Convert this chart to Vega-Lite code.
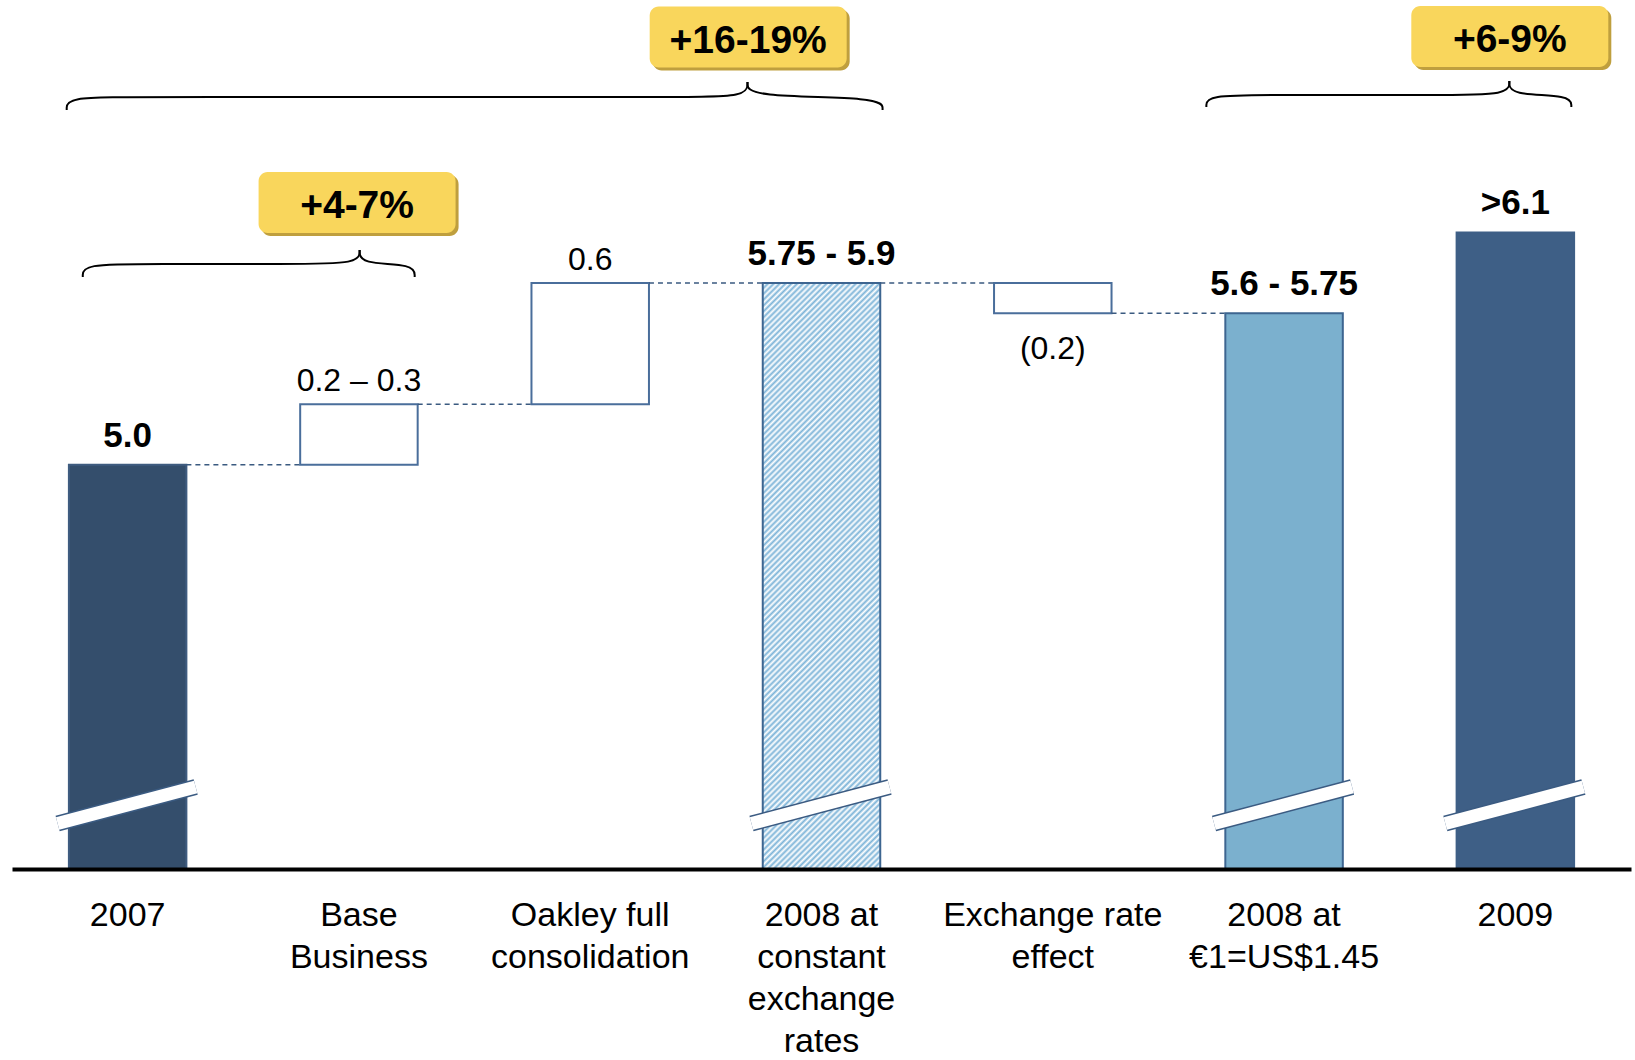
{
  "$schema": "https://vega.github.io/schema/vega-lite/v6.json",
  "width": 1619,
  "height": 869,
  "autosize": {"type": "none"},
  "padding": {"left": 12, "top": 0, "right": 4, "bottom": 191},
  "background": "#ffffff",
  "config": {"view": {"stroke": null}},
  "datasets": {
    "steps": [
      {"key": "y2007", "cat": "2007", "kind": "total", "lo": 0, "hi": 5.0, "label": "5.0"},
      {"key": "base", "cat": "Base\nBusiness", "kind": "up", "lo": 5.0, "hi": 5.3, "label": "0.2 – 0.3"},
      {"key": "oakley", "cat": "Oakley full\nconsolidation", "kind": "up", "lo": 5.3, "hi": 5.9, "label": "0.6"},
      {"key": "y2008c", "cat": "2008 at\nconstant\nexchange\nrates", "kind": "total", "lo": 0, "hi": 5.9, "label": "5.75 - 5.9"},
      {"key": "fx", "cat": "Exchange rate\neffect", "kind": "down", "lo": 5.75, "hi": 5.9, "label": "(0.2)"},
      {"key": "y2008usd", "cat": "2008 at\n€1=US$1.45", "kind": "total", "lo": 0, "hi": 5.75, "label": "5.6 - 5.75"},
      {"key": "y2009", "cat": "2009", "kind": "total", "lo": 0, "hi": 6.15, "label": ">6.1"}
    ],
    "links": [
      {"from": "2007", "to": "Base\nBusiness", "level": 5.0},
      {"from": "Base\nBusiness", "to": "Oakley full\nconsolidation", "level": 5.3},
      {"from": "Oakley full\nconsolidation", "to": "2008 at\nconstant\nexchange\nrates", "level": 5.9},
      {"from": "2008 at\nconstant\nexchange\nrates", "to": "Exchange rate\neffect", "level": 5.9},
      {"from": "Exchange rate\neffect", "to": "2008 at\n€1=US$1.45", "level": 5.75}
    ],
    "braces": [
      {"brace": "a1", "k": 0, "u": -0.2635, "v": 6.756},
      {"brace": "a1", "k": 1, "u": -0.2635, "v": 6.82},
      {"brace": "a1", "k": 2, "u": 0.0365, "v": 6.82},
      {"brace": "a1", "k": 3, "u": 2.38, "v": 6.82},
      {"brace": "a1", "k": 4, "u": 2.68, "v": 6.82},
      {"brace": "a1", "k": 5, "u": 2.68, "v": 6.894},
      {"brace": "a2", "k": 0, "u": 2.68, "v": 6.894},
      {"brace": "a2", "k": 1, "u": 2.68, "v": 6.82},
      {"brace": "a2", "k": 2, "u": 3.264, "v": 6.82},
      {"brace": "a2", "k": 3, "u": 3.264, "v": 6.756},
      {"brace": "b1", "k": 0, "u": -0.194, "v": 5.929},
      {"brace": "b1", "k": 1, "u": -0.194, "v": 5.994},
      {"brace": "b1", "k": 2, "u": 0.106, "v": 5.994},
      {"brace": "b1", "k": 3, "u": 0.703, "v": 5.994},
      {"brace": "b1", "k": 4, "u": 1.003, "v": 5.994},
      {"brace": "b1", "k": 5, "u": 1.003, "v": 6.063},
      {"brace": "b2", "k": 0, "u": 1.003, "v": 6.063},
      {"brace": "b2", "k": 1, "u": 1.003, "v": 5.994},
      {"brace": "b2", "k": 2, "u": 1.241, "v": 5.994},
      {"brace": "b2", "k": 3, "u": 1.241, "v": 5.929},
      {"brace": "c1", "k": 0, "u": 4.664, "v": 6.771},
      {"brace": "c1", "k": 1, "u": 4.664, "v": 6.83},
      {"brace": "c1", "k": 2, "u": 4.964, "v": 6.83},
      {"brace": "c1", "k": 3, "u": 5.674, "v": 6.83},
      {"brace": "c1", "k": 4, "u": 5.974, "v": 6.83},
      {"brace": "c1", "k": 5, "u": 5.974, "v": 6.899},
      {"brace": "c2", "k": 0, "u": 5.974, "v": 6.899},
      {"brace": "c2", "k": 1, "u": 5.974, "v": 6.83},
      {"brace": "c2", "k": 2, "u": 6.242, "v": 6.83},
      {"brace": "c2", "k": 3, "u": 6.242, "v": 6.771}
    ],
    "badges": [
      {"text": "+16-19%", "u": 2.683, "v": 7.117},
      {"text": "+4-7%", "u": 0.992, "v": 6.298},
      {"text": "+6-9%", "u": 5.976, "v": 7.12}
    ]
  },
  "layer": [
    {
      "data": {"name": "steps"},
      "transform": [{"filter": "datum.key != 'y2008c'"}],
      "mark": {"type": "bar", "strokeWidth": 2},
      "encoding": {
        "x": {
          "field": "cat", "type": "nominal", "sort": null,
          "scale": {"domain": ["2007", "Base\nBusiness", "Oakley full\nconsolidation", "2008 at\nconstant\nexchange\nrates", "Exchange rate\neffect", "2008 at\n€1=US$1.45", "2009"], "paddingInner": 0.492, "paddingOuter": 0.246},
          "axis": {
            "title": null, "zindex": 1, "orient": "bottom",
            "domain": true, "domainColor": "#000000", "domainWidth": 4,
            "ticks": false, "tickSize": 0, "grid": false,
            "labelPadding": 29, "labelAngle": 0, "labelBaseline": "top",
            "labelFont": "Liberation Sans, Arial, sans-serif",
            "labelFontSize": 34, "labelColor": "#000000", "labelLineHeight": 42,
            "labelLimit": 0, "labelOverlap": false,
            "labelExpr": "split(datum.label, '\\n')"
          }
        },
        "y": {"field": "hi", "type": "quantitative", "scale": {"domain": [3, 7.3], "clamp": true, "zero": false, "nice": false}, "axis": null},
        "y2": {"field": "lo"},
        "fill": {"field": "key", "type": "nominal", "legend": null,
          "scale": {"domain": ["y2007", "base", "oakley", "fx", "y2008usd", "y2009"], "range": ["#344e6c", "#ffffff", "#ffffff", "#ffffff", "#7bb0ce", "#3e5f86"]}},
        "stroke": {"field": "key", "type": "nominal", "legend": null,
          "scale": {"domain": ["y2007", "base", "oakley", "fx", "y2008usd", "y2009"], "range": ["#3f5c80", "#4a6e9b", "#4a6e9b", "#4a6e9b", "#3d6590", "#3e5f86"]}}
      }
    },
    {
      "data": {"name": "steps"},
      "transform": [{"filter": {"field": "key", "equal": "y2008c"}}],
      "mark": {
        "type": "bar", "stroke": "#3d6590", "strokeWidth": 2,
        "fill": {
          "gradient": "linear", "x1": 0, "y1": 0, "x2": 0.24, "y2": 1.2,
          "stops": [
            {"offset":0,"color":"#7db4d8"},{"offset":0.004,"color":"#fff"},{"offset":0.008,"color":"#7db4d8"},{"offset":0.012,"color":"#fff"},{"offset":0.016,"color":"#7db4d8"},{"offset":0.02,"color":"#fff"},{"offset":0.024,"color":"#7db4d8"},{"offset":0.028,"color":"#fff"},{"offset":0.032,"color":"#7db4d8"},{"offset":0.036,"color":"#fff"},
            {"offset":0.04,"color":"#7db4d8"},{"offset":0.044,"color":"#fff"},{"offset":0.048,"color":"#7db4d8"},{"offset":0.052,"color":"#fff"},{"offset":0.056,"color":"#7db4d8"},{"offset":0.06,"color":"#fff"},{"offset":0.064,"color":"#7db4d8"},{"offset":0.068,"color":"#fff"},{"offset":0.072,"color":"#7db4d8"},{"offset":0.076,"color":"#fff"},
            {"offset":0.08,"color":"#7db4d8"},{"offset":0.084,"color":"#fff"},{"offset":0.088,"color":"#7db4d8"},{"offset":0.092,"color":"#fff"},{"offset":0.096,"color":"#7db4d8"},{"offset":0.1,"color":"#fff"},{"offset":0.104,"color":"#7db4d8"},{"offset":0.108,"color":"#fff"},{"offset":0.112,"color":"#7db4d8"},{"offset":0.116,"color":"#fff"},
            {"offset":0.12,"color":"#7db4d8"},{"offset":0.124,"color":"#fff"},{"offset":0.128,"color":"#7db4d8"},{"offset":0.132,"color":"#fff"},{"offset":0.136,"color":"#7db4d8"},{"offset":0.14,"color":"#fff"},{"offset":0.144,"color":"#7db4d8"},{"offset":0.148,"color":"#fff"},{"offset":0.152,"color":"#7db4d8"},{"offset":0.156,"color":"#fff"},
            {"offset":0.16,"color":"#7db4d8"},{"offset":0.164,"color":"#fff"},{"offset":0.168,"color":"#7db4d8"},{"offset":0.172,"color":"#fff"},{"offset":0.176,"color":"#7db4d8"},{"offset":0.18,"color":"#fff"},{"offset":0.184,"color":"#7db4d8"},{"offset":0.188,"color":"#fff"},{"offset":0.192,"color":"#7db4d8"},{"offset":0.196,"color":"#fff"},
            {"offset":0.2,"color":"#7db4d8"},{"offset":0.204,"color":"#fff"},{"offset":0.208,"color":"#7db4d8"},{"offset":0.212,"color":"#fff"},{"offset":0.216,"color":"#7db4d8"},{"offset":0.22,"color":"#fff"},{"offset":0.224,"color":"#7db4d8"},{"offset":0.228,"color":"#fff"},{"offset":0.232,"color":"#7db4d8"},{"offset":0.236,"color":"#fff"},
            {"offset":0.24,"color":"#7db4d8"},{"offset":0.244,"color":"#fff"},{"offset":0.248,"color":"#7db4d8"},{"offset":0.252,"color":"#fff"},{"offset":0.256,"color":"#7db4d8"},{"offset":0.26,"color":"#fff"},{"offset":0.264,"color":"#7db4d8"},{"offset":0.268,"color":"#fff"},{"offset":0.272,"color":"#7db4d8"},{"offset":0.276,"color":"#fff"},
            {"offset":0.28,"color":"#7db4d8"},{"offset":0.284,"color":"#fff"},{"offset":0.288,"color":"#7db4d8"},{"offset":0.292,"color":"#fff"},{"offset":0.296,"color":"#7db4d8"},{"offset":0.3,"color":"#fff"},{"offset":0.304,"color":"#7db4d8"},{"offset":0.308,"color":"#fff"},{"offset":0.312,"color":"#7db4d8"},{"offset":0.316,"color":"#fff"},
            {"offset":0.32,"color":"#7db4d8"},{"offset":0.324,"color":"#fff"},{"offset":0.328,"color":"#7db4d8"},{"offset":0.332,"color":"#fff"},{"offset":0.336,"color":"#7db4d8"},{"offset":0.34,"color":"#fff"},{"offset":0.344,"color":"#7db4d8"},{"offset":0.348,"color":"#fff"},{"offset":0.352,"color":"#7db4d8"},{"offset":0.356,"color":"#fff"},
            {"offset":0.36,"color":"#7db4d8"},{"offset":0.364,"color":"#fff"},{"offset":0.368,"color":"#7db4d8"},{"offset":0.372,"color":"#fff"},{"offset":0.376,"color":"#7db4d8"},{"offset":0.38,"color":"#fff"},{"offset":0.384,"color":"#7db4d8"},{"offset":0.388,"color":"#fff"},{"offset":0.392,"color":"#7db4d8"},{"offset":0.396,"color":"#fff"},
            {"offset":0.4,"color":"#7db4d8"},{"offset":0.404,"color":"#fff"},{"offset":0.408,"color":"#7db4d8"},{"offset":0.412,"color":"#fff"},{"offset":0.416,"color":"#7db4d8"},{"offset":0.42,"color":"#fff"},{"offset":0.424,"color":"#7db4d8"},{"offset":0.428,"color":"#fff"},{"offset":0.432,"color":"#7db4d8"},{"offset":0.436,"color":"#fff"},
            {"offset":0.44,"color":"#7db4d8"},{"offset":0.444,"color":"#fff"},{"offset":0.448,"color":"#7db4d8"},{"offset":0.452,"color":"#fff"},{"offset":0.456,"color":"#7db4d8"},{"offset":0.46,"color":"#fff"},{"offset":0.464,"color":"#7db4d8"},{"offset":0.468,"color":"#fff"},{"offset":0.472,"color":"#7db4d8"},{"offset":0.476,"color":"#fff"},
            {"offset":0.48,"color":"#7db4d8"},{"offset":0.484,"color":"#fff"},{"offset":0.488,"color":"#7db4d8"},{"offset":0.492,"color":"#fff"},{"offset":0.496,"color":"#7db4d8"},{"offset":0.5,"color":"#fff"},{"offset":0.504,"color":"#7db4d8"},{"offset":0.508,"color":"#fff"},{"offset":0.512,"color":"#7db4d8"},{"offset":0.516,"color":"#fff"},
            {"offset":0.52,"color":"#7db4d8"},{"offset":0.524,"color":"#fff"},{"offset":0.528,"color":"#7db4d8"},{"offset":0.532,"color":"#fff"},{"offset":0.536,"color":"#7db4d8"},{"offset":0.54,"color":"#fff"},{"offset":0.544,"color":"#7db4d8"},{"offset":0.548,"color":"#fff"},{"offset":0.552,"color":"#7db4d8"},{"offset":0.556,"color":"#fff"},
            {"offset":0.56,"color":"#7db4d8"},{"offset":0.564,"color":"#fff"},{"offset":0.568,"color":"#7db4d8"},{"offset":0.572,"color":"#fff"},{"offset":0.576,"color":"#7db4d8"},{"offset":0.58,"color":"#fff"},{"offset":0.584,"color":"#7db4d8"},{"offset":0.588,"color":"#fff"},{"offset":0.592,"color":"#7db4d8"},{"offset":0.596,"color":"#fff"},
            {"offset":0.6,"color":"#7db4d8"},{"offset":0.604,"color":"#fff"},{"offset":0.608,"color":"#7db4d8"},{"offset":0.612,"color":"#fff"},{"offset":0.616,"color":"#7db4d8"},{"offset":0.62,"color":"#fff"},{"offset":0.624,"color":"#7db4d8"},{"offset":0.628,"color":"#fff"},{"offset":0.632,"color":"#7db4d8"},{"offset":0.636,"color":"#fff"},
            {"offset":0.64,"color":"#7db4d8"},{"offset":0.644,"color":"#fff"},{"offset":0.648,"color":"#7db4d8"},{"offset":0.652,"color":"#fff"},{"offset":0.656,"color":"#7db4d8"},{"offset":0.66,"color":"#fff"},{"offset":0.664,"color":"#7db4d8"},{"offset":0.668,"color":"#fff"},{"offset":0.672,"color":"#7db4d8"},{"offset":0.676,"color":"#fff"},
            {"offset":0.68,"color":"#7db4d8"},{"offset":0.684,"color":"#fff"},{"offset":0.688,"color":"#7db4d8"},{"offset":0.692,"color":"#fff"},{"offset":0.696,"color":"#7db4d8"},{"offset":0.7,"color":"#fff"},{"offset":0.704,"color":"#7db4d8"},{"offset":0.708,"color":"#fff"},{"offset":0.712,"color":"#7db4d8"},{"offset":0.716,"color":"#fff"},
            {"offset":0.72,"color":"#7db4d8"},{"offset":0.724,"color":"#fff"},{"offset":0.728,"color":"#7db4d8"},{"offset":0.732,"color":"#fff"},{"offset":0.736,"color":"#7db4d8"},{"offset":0.74,"color":"#fff"},{"offset":0.744,"color":"#7db4d8"},{"offset":0.748,"color":"#fff"},{"offset":0.752,"color":"#7db4d8"},{"offset":0.756,"color":"#fff"},
            {"offset":0.76,"color":"#7db4d8"},{"offset":0.764,"color":"#fff"},{"offset":0.768,"color":"#7db4d8"},{"offset":0.772,"color":"#fff"},{"offset":0.776,"color":"#7db4d8"},{"offset":0.78,"color":"#fff"},{"offset":0.784,"color":"#7db4d8"},{"offset":0.788,"color":"#fff"},{"offset":0.792,"color":"#7db4d8"},{"offset":0.796,"color":"#fff"},
            {"offset":0.8,"color":"#7db4d8"},{"offset":0.804,"color":"#fff"},{"offset":0.808,"color":"#7db4d8"},{"offset":0.812,"color":"#fff"},{"offset":0.816,"color":"#7db4d8"},{"offset":0.82,"color":"#fff"},{"offset":0.824,"color":"#7db4d8"},{"offset":0.828,"color":"#fff"},{"offset":0.832,"color":"#7db4d8"},{"offset":0.836,"color":"#fff"},
            {"offset":0.84,"color":"#7db4d8"},{"offset":0.844,"color":"#fff"},{"offset":0.848,"color":"#7db4d8"},{"offset":0.852,"color":"#fff"},{"offset":0.856,"color":"#7db4d8"},{"offset":0.86,"color":"#fff"},{"offset":0.864,"color":"#7db4d8"},{"offset":0.868,"color":"#fff"},{"offset":0.872,"color":"#7db4d8"},{"offset":0.876,"color":"#fff"},
            {"offset":0.88,"color":"#7db4d8"},{"offset":0.884,"color":"#fff"},{"offset":0.888,"color":"#7db4d8"},{"offset":0.892,"color":"#fff"},{"offset":0.896,"color":"#7db4d8"},{"offset":0.9,"color":"#fff"},{"offset":0.904,"color":"#7db4d8"},{"offset":0.908,"color":"#fff"},{"offset":0.912,"color":"#7db4d8"},{"offset":0.916,"color":"#fff"},
            {"offset":0.92,"color":"#7db4d8"},{"offset":0.924,"color":"#fff"},{"offset":0.928,"color":"#7db4d8"},{"offset":0.932,"color":"#fff"},{"offset":0.936,"color":"#7db4d8"},{"offset":0.94,"color":"#fff"},{"offset":0.944,"color":"#7db4d8"},{"offset":0.948,"color":"#fff"},{"offset":0.952,"color":"#7db4d8"},{"offset":0.956,"color":"#fff"},
            {"offset":0.96,"color":"#7db4d8"}
          ]
        }
      },
      "encoding": {
        "x": {"field": "cat", "type": "nominal", "sort": null, "axis": null,
          "scale": {"domain": ["2007", "Base\nBusiness", "Oakley full\nconsolidation", "2008 at\nconstant\nexchange\nrates", "Exchange rate\neffect", "2008 at\n€1=US$1.45", "2009"], "paddingInner": 0.492, "paddingOuter": 0.246}},
        "y": {"field": "hi", "type": "quantitative", "scale": {"domain": [3, 7.3], "clamp": true, "zero": false, "nice": false}, "axis": null},
        "y2": {"field": "lo"}
      }
    },
    {
      "data": {"name": "links"},
      "mark": {"type": "rule", "strokeDash": [5, 4], "strokeWidth": 1.5, "color": "#3a5a80"},
      "encoding": {
        "x": {"field": "from", "type": "nominal", "sort": null, "bandPosition": 1, "axis": null,
          "scale": {"domain": ["2007", "Base\nBusiness", "Oakley full\nconsolidation", "2008 at\nconstant\nexchange\nrates", "Exchange rate\neffect", "2008 at\n€1=US$1.45", "2009"], "paddingInner": 0.492, "paddingOuter": 0.246}},
        "x2": {"field": "to", "bandPosition": 0},
        "y": {"field": "level", "type": "quantitative", "scale": {"domain": [3, 7.3], "clamp": true, "zero": false, "nice": false}, "axis": null}
      }
    },
    {
      "data": {"name": "steps"},
      "transform": [{"filter": {"field": "kind", "equal": "total"}}],
      "mark": {"type": "rule", "strokeWidth": 16, "color": "#3b5b82", "strokeCap": "butt"},
      "encoding": {
        "x": {"field": "cat", "type": "nominal", "sort": null, "bandPosition": -0.096, "axis": null,
          "scale": {"domain": ["2007", "Base\nBusiness", "Oakley full\nconsolidation", "2008 at\nconstant\nexchange\nrates", "Exchange rate\neffect", "2008 at\n€1=US$1.45", "2009"], "paddingInner": 0.492, "paddingOuter": 0.246}},
        "x2": {"field": "cat", "bandPosition": 1.079},
        "y": {"datum": 3.225, "type": "quantitative", "scale": {"domain": [3, 7.3], "clamp": true, "zero": false, "nice": false}, "axis": null},
        "y2": {"datum": 3.406}
      }
    },
    {
      "data": {"name": "steps"},
      "transform": [{"filter": {"field": "kind", "equal": "total"}}],
      "mark": {"type": "rule", "strokeWidth": 13, "color": "#ffffff", "strokeCap": "butt"},
      "encoding": {
        "x": {"field": "cat", "type": "nominal", "sort": null, "bandPosition": -0.096, "axis": null,
          "scale": {"domain": ["2007", "Base\nBusiness", "Oakley full\nconsolidation", "2008 at\nconstant\nexchange\nrates", "Exchange rate\neffect", "2008 at\n€1=US$1.45", "2009"], "paddingInner": 0.492, "paddingOuter": 0.246}},
        "x2": {"field": "cat", "bandPosition": 1.079},
        "y": {"datum": 3.225, "type": "quantitative", "scale": {"domain": [3, 7.3], "clamp": true, "zero": false, "nice": false}, "axis": null},
        "y2": {"datum": 3.406}
      }
    },
    {
      "data": {"name": "steps"},
      "transform": [{"filter": {"field": "kind", "equal": "total"}}],
      "mark": {"type": "text", "font": "Liberation Sans, Arial, sans-serif", "fontWeight": "bold", "fontSize": 35, "baseline": "alphabetic", "align": "center", "dy": -18, "color": "#000000"},
      "encoding": {
        "x": {"field": "cat", "type": "nominal", "sort": null, "axis": null,
          "scale": {"domain": ["2007", "Base\nBusiness", "Oakley full\nconsolidation", "2008 at\nconstant\nexchange\nrates", "Exchange rate\neffect", "2008 at\n€1=US$1.45", "2009"], "paddingInner": 0.492, "paddingOuter": 0.246}},
        "y": {"field": "hi", "type": "quantitative", "scale": {"domain": [3, 7.3], "clamp": true, "zero": false, "nice": false}, "axis": null},
        "text": {"field": "label"}
      }
    },
    {
      "data": {"name": "steps"},
      "transform": [{"filter": {"field": "kind", "equal": "up"}}],
      "mark": {"type": "text", "font": "Liberation Sans, Arial, sans-serif", "fontSize": 32, "baseline": "alphabetic", "align": "center", "dy": -13, "color": "#000000"},
      "encoding": {
        "x": {"field": "cat", "type": "nominal", "sort": null, "axis": null,
          "scale": {"domain": ["2007", "Base\nBusiness", "Oakley full\nconsolidation", "2008 at\nconstant\nexchange\nrates", "Exchange rate\neffect", "2008 at\n€1=US$1.45", "2009"], "paddingInner": 0.492, "paddingOuter": 0.246}},
        "y": {"field": "hi", "type": "quantitative", "scale": {"domain": [3, 7.3], "clamp": true, "zero": false, "nice": false}, "axis": null},
        "text": {"field": "label"}
      }
    },
    {
      "data": {"name": "steps"},
      "transform": [{"filter": {"field": "kind", "equal": "down"}}],
      "mark": {"type": "text", "font": "Liberation Sans, Arial, sans-serif", "fontSize": 32, "baseline": "alphabetic", "align": "center", "dy": 46, "color": "#000000"},
      "encoding": {
        "x": {"field": "cat", "type": "nominal", "sort": null, "axis": null,
          "scale": {"domain": ["2007", "Base\nBusiness", "Oakley full\nconsolidation", "2008 at\nconstant\nexchange\nrates", "Exchange rate\neffect", "2008 at\n€1=US$1.45", "2009"], "paddingInner": 0.492, "paddingOuter": 0.246}},
        "y": {"field": "lo", "type": "quantitative", "scale": {"domain": [3, 7.3], "clamp": true, "zero": false, "nice": false}, "axis": null},
        "text": {"field": "label"}
      }
    },
    {
      "data": {"name": "braces"},
      "mark": {"type": "line", "interpolate": "basis", "color": "#000000", "strokeWidth": 2},
      "encoding": {
        "x": {"field": "u", "type": "quantitative", "scale": {"domain": [-0.5, 6.5], "nice": false, "zero": false}, "axis": null},
        "y": {"field": "v", "type": "quantitative", "scale": {"domain": [3, 7.3], "clamp": true, "zero": false, "nice": false}, "axis": null},
        "detail": {"field": "brace"},
        "order": {"field": "k"}
      }
    },
    {
      "data": {"name": "badges"},
      "mark": {"type": "rect", "width": 197, "height": 61, "cornerRadius": 9, "fill": "#bf9f3e", "xOffset": 3, "yOffset": 3},
      "encoding": {
        "x": {"field": "u", "type": "quantitative", "scale": {"domain": [-0.5, 6.5], "nice": false, "zero": false}, "axis": null},
        "y": {"field": "v", "type": "quantitative", "scale": {"domain": [3, 7.3], "clamp": true, "zero": false, "nice": false}, "axis": null}
      }
    },
    {
      "data": {"name": "badges"},
      "mark": {"type": "rect", "width": 197, "height": 61, "cornerRadius": 9, "fill": "#f9d65c"},
      "encoding": {
        "x": {"field": "u", "type": "quantitative", "scale": {"domain": [-0.5, 6.5], "nice": false, "zero": false}, "axis": null},
        "y": {"field": "v", "type": "quantitative", "scale": {"domain": [3, 7.3], "clamp": true, "zero": false, "nice": false}, "axis": null}
      }
    },
    {
      "data": {"name": "badges"},
      "mark": {"type": "text", "font": "Liberation Sans, Arial, sans-serif", "fontWeight": "bold", "fontSize": 39, "baseline": "alphabetic", "align": "center", "dy": 16, "color": "#000000"},
      "encoding": {
        "x": {"field": "u", "type": "quantitative", "scale": {"domain": [-0.5, 6.5], "nice": false, "zero": false}, "axis": null},
        "y": {"field": "v", "type": "quantitative", "scale": {"domain": [3, 7.3], "clamp": true, "zero": false, "nice": false}, "axis": null},
        "text": {"field": "text"}
      }
    }
  ],
  "resolve": {"scale": {"x": "independent"}}
}
